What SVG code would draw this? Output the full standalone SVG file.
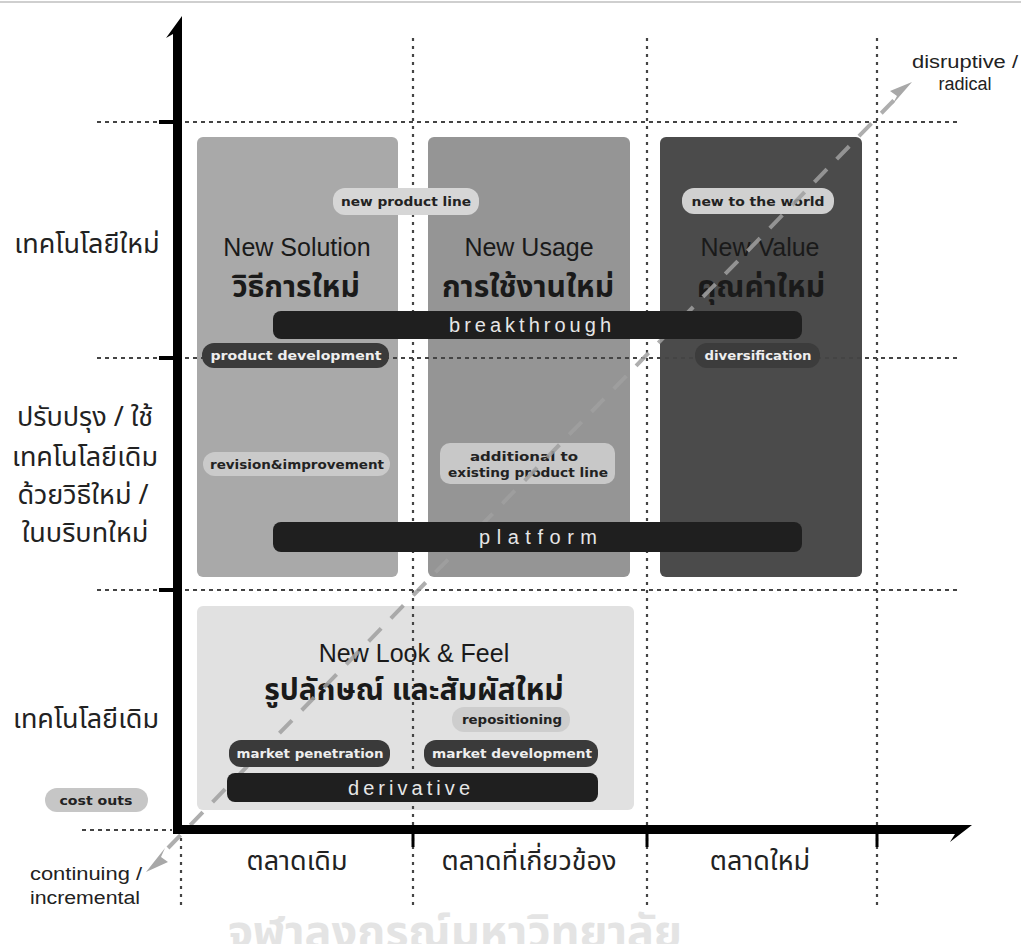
<svg xmlns="http://www.w3.org/2000/svg" width="1021" height="944" viewBox="0 0 1021 944">
  <style>
    .en { font-family: "Liberation Sans", Arial, sans-serif; }
    .rd { font-family: "DejaVu Sans", "Liberation Sans", sans-serif; }
    .th { font-family: "Noto Sans Thai", "Liberation Sans", "Noto Sans", sans-serif; }
    .head { font-size: 25px; fill: #1a1a1a; text-anchor: middle; }
    .headth { font-size: 30px; font-weight: bold; fill: #1a1a1a; text-anchor: middle; }
    .axis-lbl { font-size: 27px; fill: #222; text-anchor: middle; }
    .pill-l { font-size: 12px; font-weight: bold; fill: #222; text-anchor: middle; }
    .pill-d { font-size: 12px; font-weight: bold; fill: #eee; text-anchor: middle; }
    .bar { font-size: 20px; fill: #e6e6e6; text-anchor: middle; }
    .corner { font-size: 18px; fill: #222; }
    .hdot { stroke: #444; stroke-width: 2; stroke-dasharray: 4 4; fill: none; }
    .vdot { stroke: #444; stroke-width: 2.2; stroke-dasharray: 3 5; fill: none; }
    .tick { stroke: #000; fill: none; }
  </style>

  <!-- frame edge -->
  <line x1="0" y1="2" x2="1021" y2="2" stroke="#cfcfcf" stroke-width="2"/>

  <!-- quadrant fields -->
  <g id="solution-box"><rect x="197" y="137" width="201" height="440" rx="6" fill="#a9a9a9"/></g>
  <g id="usage-box"><rect x="428" y="137" width="202" height="440" rx="6" fill="#959595"/></g>
  <g id="value-box"><rect x="660" y="137" width="202" height="440" rx="6" fill="#4b4b4b"/></g>
  <g id="lookfeel-box"><rect x="197" y="606" width="437" height="204" rx="6" fill="#e1e1e1"/></g>

  <!-- grid guides -->
  <g id="grid">
    <line class="hdot" x1="97" y1="122" x2="960" y2="122"/>
    <line class="hdot" x1="97" y1="358" x2="960" y2="358"/>
    <line class="hdot" x1="97" y1="590" x2="960" y2="590"/>
    <line class="hdot" x1="82" y1="830" x2="172" y2="830"/>
    <line class="vdot" x1="413" y1="38" x2="413" y2="905"/>
    <line class="vdot" x1="647" y1="38" x2="647" y2="905"/>
    <line class="vdot" x1="877" y1="38" x2="877" y2="905"/>
    <line class="vdot" x1="181" y1="838" x2="181" y2="905"/>
  </g>

  <!-- light labels -->
  <g id="new-product-line">
    <rect x="333" y="188" width="146" height="27" rx="12" fill="#d6d6d6"/>
    <text class="rd pill-l" x="406" y="206" textLength="130" lengthAdjust="spacingAndGlyphs">new product line</text>
  </g>
  <g id="new-to-the-world">
    <rect x="682" y="188" width="152" height="26" rx="12" fill="#d0d0d0"/>
    <text class="rd pill-l" x="758" y="206" textLength="133" lengthAdjust="spacingAndGlyphs">new to the world</text>
  </g>
  <g id="revision-improvement">
    <rect x="203" y="452" width="187" height="24" rx="12" fill="#cacaca"/>
    <text class="rd pill-l" x="297" y="469" textLength="174" lengthAdjust="spacingAndGlyphs">revision&amp;improvement</text>
  </g>
  <g id="additional">
    <rect x="440" y="443" width="175" height="41" rx="10" fill="#c8c8c8"/>
    <text class="rd pill-l" x="524" y="461" textLength="108" lengthAdjust="spacingAndGlyphs">additional to</text>
    <text class="rd pill-l" x="528" y="477" textLength="160" lengthAdjust="spacingAndGlyphs">existing product line</text>
  </g>
  <g id="repositioning">
    <rect x="452" y="707" width="118" height="25" rx="12" fill="#cdcdcd"/>
    <text class="rd pill-l" x="512" y="724" textLength="100" lengthAdjust="spacingAndGlyphs">repositioning</text>
  </g>
  <g id="cost-outs">
    <rect x="45" y="788" width="103" height="24" rx="12" fill="#c6c6c6"/>
    <text class="rd pill-l" x="96" y="805" textLength="73" lengthAdjust="spacingAndGlyphs">cost outs</text>
  </g>

  <!-- headings -->
  <g id="solution-title">
    <text class="en head" x="297" y="256">New Solution</text>
    <text class="th headth" x="296" y="297">วิธีการใหม่</text>
  </g>
  <g id="usage-title">
    <text class="en head" x="529" y="256">New Usage</text>
    <text class="th headth" x="528" y="297">การใช้งานใหม่</text>
  </g>
  <g id="value-title">
    <text class="en head" x="760" y="256" fill="#111">New Value</text>
    <text class="th headth" x="761" y="297" fill="#111">คุณค่าใหม่</text>
  </g>
  <g id="lookfeel-title">
    <text class="en head" x="414" y="662">New Look &amp; Feel</text>
    <text class="th headth" x="414" y="700" font-size="28.5">รูปลักษณ์ และสัมผัสใหม่</text>
  </g>

  <!-- incremental to radical diagonal -->
  <g id="connectors">
    <line x1="168" y1="848" x2="898" y2="96" stroke="#a0a0a0" stroke-width="4" stroke-dasharray="18 14" opacity="0.85"/>
    <polygon points="912,82 890,91 897,96 892,105" fill="#a8a8a8"/>
    <polygon points="146,872 168,862 161,857 165,848" fill="#a8a8a8"/>
  </g>

  <!-- dark labels -->
  <g id="product-development">
    <rect x="202" y="343" width="187" height="25" rx="12" fill="#3a3a3a"/>
    <text class="rd pill-d" x="296" y="360" textLength="171" lengthAdjust="spacingAndGlyphs">product development</text>
  </g>
  <g id="diversification">
    <rect x="695" y="343" width="125" height="25" rx="12" fill="#3c3c3c"/>
    <text class="rd pill-d" x="758" y="360" textLength="107" lengthAdjust="spacingAndGlyphs">diversification</text>
  </g>
  <g id="market-penetration">
    <rect x="229" y="740" width="161" height="27" rx="12" fill="#3a3a3a"/>
    <text class="rd pill-d" x="310" y="758" textLength="147" lengthAdjust="spacingAndGlyphs">market penetration</text>
  </g>
  <g id="market-development">
    <rect x="424" y="740" width="174" height="27" rx="12" fill="#3a3a3a"/>
    <text class="rd pill-d" x="512" y="758" textLength="160" lengthAdjust="spacingAndGlyphs">market development</text>
  </g>

  <!-- spans -->
  <g id="breakthrough">
    <rect x="273" y="311" width="529" height="28" rx="8" fill="#1f1f1f"/>
    <text class="en bar" x="530" y="332" textLength="162" lengthAdjust="spacing">breakthrough</text>
  </g>
  <g id="platform">
    <rect x="273" y="522" width="529" height="30" rx="8" fill="#1f1f1f"/>
    <text class="en bar" x="538" y="544" textLength="118" lengthAdjust="spacing">platform</text>
  </g>
  <g id="derivative">
    <rect x="227" y="773" width="371" height="29" rx="8" fill="#1f1f1f"/>
    <text class="en bar" x="409" y="795" textLength="122" lengthAdjust="spacing">derivative</text>
  </g>

  <!-- axes -->
  <g id="axes">
    <polygon points="182,16 182,834 173,834 173,34 166,38" fill="#000"/>
    <polygon points="173,825 972,825 950,842 955,834 173,834" fill="#000"/>
    <line class="tick" x1="159" y1="122" x2="178" y2="122" stroke-width="4"/>
    <line class="tick" x1="159" y1="358" x2="178" y2="358" stroke-width="4"/>
    <line class="tick" x1="159" y1="590" x2="178" y2="590" stroke-width="4"/>
    <line class="tick" x1="413" y1="830" x2="413" y2="847" stroke-width="3"/>
    <line class="tick" x1="647" y1="830" x2="647" y2="847" stroke-width="3"/>
    <line class="tick" x1="877" y1="830" x2="877" y2="847" stroke-width="3"/>
  </g>

  <!-- axis captions -->
  <g id="y-labels">
    <text class="th axis-lbl" x="87" y="253">เทคโนโลยีใหม่</text>
    <text class="th axis-lbl" x="85" y="426">ปรับปรุง / ใช้</text>
    <text class="th axis-lbl" x="85" y="466">เทคโนโลยีเดิม</text>
    <text class="th axis-lbl" x="83" y="504">ด้วยวิธีใหม่ /</text>
    <text class="th axis-lbl" x="85" y="542">ในบริบทใหม่</text>
    <text class="th axis-lbl" x="86" y="728">เทคโนโลยีเดิม</text>
  </g>
  <g id="x-labels">
    <text class="th axis-lbl" x="297" y="870">ตลาดเดิม</text>
    <text class="th axis-lbl" x="529" y="870">ตลาดที่เกี่ยวข้อง</text>
    <text class="th axis-lbl" x="760" y="870">ตลาดใหม่</text>
  </g>
  <g id="ends">
    <text class="en corner" x="30" y="880" textLength="112" lengthAdjust="spacingAndGlyphs">continuing /</text>
    <text class="en corner" x="30" y="904" textLength="110" lengthAdjust="spacingAndGlyphs">incremental</text>
    <text class="en corner" x="965" y="68" text-anchor="middle" textLength="106" lengthAdjust="spacingAndGlyphs">disruptive /</text>
    <text class="en corner" x="965" y="90" text-anchor="middle">radical</text>
  </g>

  <!-- watermark along the lower edge -->
  <text class="th" x="455" y="947" text-anchor="middle" font-size="45" font-weight="bold" fill="#e4e4e4">จุฬาลงกรณ์มหาวิทยาลัย</text>
</svg>
